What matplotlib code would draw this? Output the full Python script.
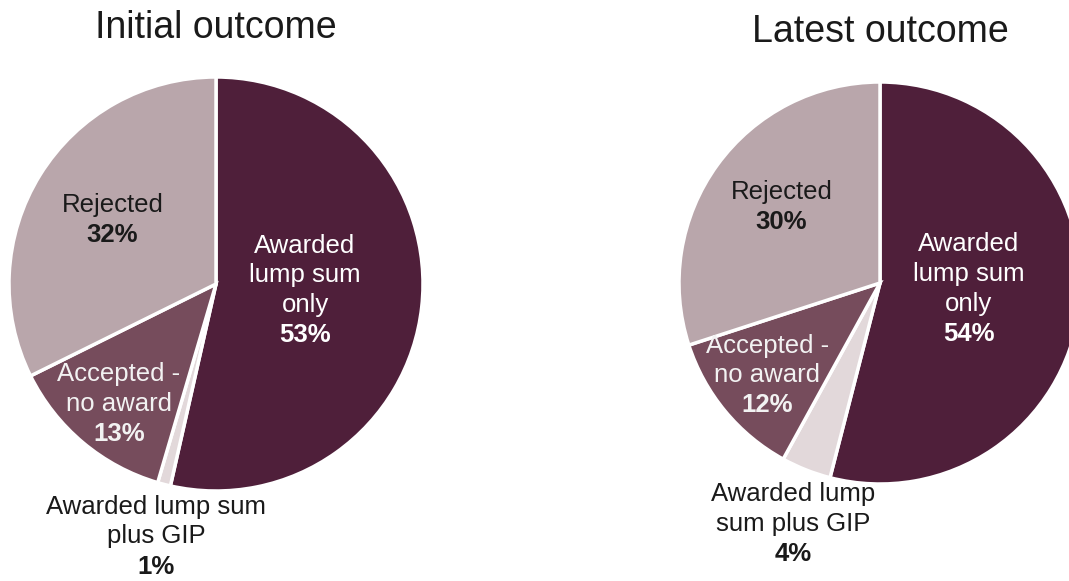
import matplotlib.pyplot as plt

# Outcome categories (clockwise from 12 o'clock)
categories = ['Awarded lump sum only', 'Awarded lump sum plus GIP', 'Accepted - no award', 'Rejected']
initial_values = [53, 1, 13, 32]
latest_values = [54, 4, 12, 30]

initial_labels = ['Awarded\nlump sum\nonly', 'Awarded lump sum\nplus GIP', 'Accepted -\nno award', 'Rejected']
latest_labels = ['Awarded\nlump sum\nonly', 'Awarded lump\nsum plus GIP', 'Accepted -\nno award', 'Rejected']

colors = ['#4f1f3a', '#e2d8da', '#764c5c', '#b9a6ab']
text_colors = ['white', '#1a1a1a', '#f2f2f2', '#1a1a1a']

# label block centres in pie-radius units
initial_pos = [(0.43, -0.03), (-0.29, -1.22), (-0.47, -0.58), (-0.50, 0.31)]
latest_pos = [(0.44, -0.03), (-0.43, -1.20), (-0.56, -0.46), (-0.49, 0.38)]

plt.rcParams['font.family'] = ['Liberation Sans', 'DejaVu Sans']

W, H = 1069, 581
fig = plt.figure(figsize=(W / 100, H / 100), dpi=100)

FS = 18.5
LS = 1.3
pitch = 21.6  # line pitch in points (~30 px)


def draw_pie(cx, cy, r, values, labels, positions, title, title_y):
    ax = fig.add_axes([(cx - r) / W, (H - cy - r) / H, 2 * r / W, 2 * r / H])
    ax.pie(values, colors=colors, startangle=90, counterclock=False, radius=1,
           wedgeprops=dict(edgecolor='white', linewidth=2.5))
    ax.set_xlim(-1, 1)
    ax.set_ylim(-1, 1)
    ax.axis('off')
    for val, lab, (x, y), tc in zip(values, labels, positions, text_colors):
        n = lab.count('\n') + 1
        # label lines above, bold percentage as last line
        ax.annotate(lab, (x, y), xytext=(0, pitch / 2), textcoords='offset points',
                    ha='center', va='center', fontsize=FS, color=tc,
                    linespacing=LS, annotation_clip=False)
        ax.annotate(f'{val}%', (x, y), xytext=(0, -n * pitch / 2), textcoords='offset points',
                    ha='center', va='center', fontsize=FS, color=tc,
                    fontweight='bold', annotation_clip=False)
    fig.text(cx / W, 1 - title_y / H, title, ha='center', va='center', fontsize=27, color='#1a1a1a')


draw_pie(216, 284, 207, initial_values, initial_labels, initial_pos, 'Initial outcome', 28)
draw_pie(880, 283, 201, latest_values, latest_labels, latest_pos, 'Latest outcome', 32)

fig.savefig('out.png', dpi=100)
